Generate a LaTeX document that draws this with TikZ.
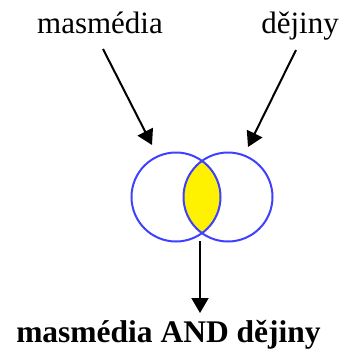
\documentclass[tikz,border=0pt]{standalone}
\usepackage{fontspec}
\setmainfont{Liberation Serif}
\usetikzlibrary{arrows.meta}
\begin{document}
\begin{tikzpicture}[x=1pt,y=1pt,
  lbl/.style={anchor=base,inner sep=0pt,font=\fontsize{31}{36}\selectfont},
  blbl/.style={lbl,font=\fontsize{31.5}{36}\selectfont\bfseries},
  arr/.style={line width=2pt,-{Triangle[length=15pt,width=17pt]}},
  ring/.style={draw=blue!75!white,line width=2pt}]
\useasboundingbox (0,0) rectangle (342,-351);
\node[lbl] (m) at (100,-33) {masmédia};
\node[lbl] (d) at (300,-33) {dějiny};
\node[blbl] (r) at (168.5,-342) {masmédia AND dějiny};
\coordinate (L) at (176,-197);
\coordinate (R) at (228,-197);
\begin{scope}
  \clip (L) circle (44.5);
  \fill[yellow] (R) circle (44.5);
\end{scope}
\begin{scope}
  \clip (L) circle (44.5);
  \draw[gray!70!olive,line width=1pt] (R) circle (44.5);
\end{scope}
\begin{scope}
  \clip (R) circle (44.5);
  \draw[gray!70!olive,line width=1pt] (L) circle (44.5);
\end{scope}
\draw[ring] (L) circle (44.5);
\draw[ring] (R) circle (44.5);
\coordinate (ms) at (103,-49);
\coordinate (mt) at (152,-145);
\coordinate (ds) at (296,-50);
\coordinate (dt) at (248,-147);
\coordinate (bs) at (200,-241);
\coordinate (bt) at (200,-313);
\draw[arr] (ms) -- (mt);
\draw[arr] (ds) -- (dt);
\draw[arr] (bs) -- (bt);
\end{tikzpicture}
\end{document}
